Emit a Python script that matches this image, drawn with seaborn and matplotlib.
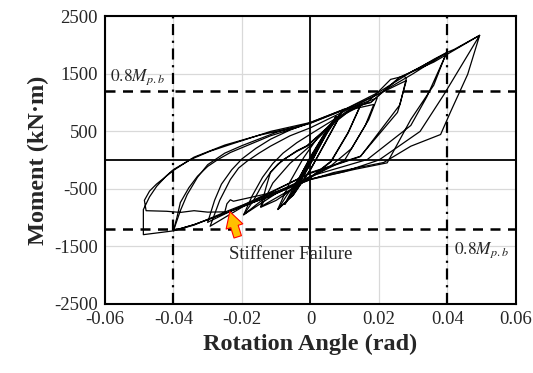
import numpy as np
import pandas as pd
import seaborn as sns
import matplotlib.pyplot as plt

# cyclic test data (rotation in rad, moment in kN.m)
rot_c1 = [0.0, 0.0018, 0.0037, 0.0022, 0.0, -0.0018, -0.0037, -0.0022, 0.0, 0.0018, 0.0037, 0.0022, 0.0, -0.0018, -0.0037]
mom_c1 = [0, 190, 380, 230, 30, -170, -370, -220, -20, 180, 385, 235, 25, -175, -375]

rot_c2 = [-0.0037, -0.002, 0.0, 0.0025, 0.005, 0.0035, 0.0, -0.0025, -0.005, -0.003, 0.0, 0.0025, 0.005, 0.0035, 0.0, -0.0025, -0.005]
mom_c2 = [-375, -200, 40, 290, 520, 370, 0, -280, -520, -300, 30, 290, 515, 365, -10, -285, -515]

rot_c3 = [-0.005, -0.003, 0.0, 0.004, 0.0075, 0.0055, 0.0, -0.004, -0.0075, -0.0055, 0.0, 0.004, 0.0075, 0.0055, 0.0, -0.004, -0.0075]
mom_c3 = [-515, -280, 60, 450, 760, 560, -60, -470, -760, -540, 40, 440, 750, 550, -70, -480, -770]

rot_c4 = [-0.0075, -0.004, 0.0, 0.005, 0.0095, 0.0075, 0.0, -0.005, -0.0095, -0.007, -0.003, 0.0, 0.005, 0.0095, 0.0075, 0.0, -0.005, -0.0095]
mom_c4 = [-770, -420, -20, 480, 880, 650, -160, -600, -860, -620, -280, 30, 500, 870, 640, -170, -610, -850]

rot_c5 = [-0.0095, -0.006, -0.002, 0.002, 0.007, 0.0115, 0.0145, 0.011, 0.006, 0.0, -0.005, -0.010, -0.0145,
          -0.011, -0.006, 0.0, 0.006, 0.0115, 0.0145, 0.011, 0.006, 0.0, -0.006, -0.0145]
mom_c5 = [-850, -380, 40, 380, 700, 880, 940, 480, -20, -300, -500, -700, -820,
          -400, -60, 250, 600, 860, 930, 470, -30, -310, -520, -810]

rot_c6 = [-0.0145, -0.013, -0.0117, -0.0095, -0.0078, -0.004, -0.001, 0.005, 0.0097, 0.015, 0.0195, 0.017, 0.012, 0.006, 0.0, -0.007, -0.014, -0.0195,
          -0.0166, -0.0140, -0.0117, -0.0095, -0.0078, -0.004, -0.001, 0.006, 0.012, 0.0185, 0.016, 0.010, 0.0, -0.010, -0.0195]
mom_c6 = [-810, -480, -217, -70, 9, 150, 240, 560, 860, 980, 1080, 700, 200, -100, -290, -500, -690, -950,
          -700, -420, -217, -80, 9, 160, 250, 620, 880, 965, 600, 0, -300, -580, -950]

rot_c7 = [-0.0195, -0.017, -0.014, -0.011, -0.008, -0.004, 0.0, 0.0068, 0.0166, 0.0205, 0.0234, 0.0273, 0.028, 0.0263, 0.0254, 0.0146, 0.0, -0.010, -0.020, -0.0293,
          -0.0265, -0.0234, -0.0210, -0.0185, -0.015, -0.0117, -0.006, 0.0, 0.010, 0.020, 0.028, 0.026, 0.0146, 0.0, -0.015, -0.030]
mom_c7 = [-950, -620, -300, -60, 120, 300, 450, 700, 1000, 1226, 1400, 1457, 1420, 1000, 826, 66, -217, -520, -820, -1150,
          -700, -339, -140, -20, 120, 240, 420, 560, 850, 1150, 1380, 950, 60, -230, -650, -1080]

rot_c8 = [-0.030, -0.028, -0.026, -0.023, -0.020, -0.016, -0.0117, -0.006, 0.0, 0.0097, 0.0176, 0.026, 0.031, 0.036, 0.0397,
          0.036, 0.0293, 0.0224, 0.0127, 0.0, -0.0146, -0.0244, -0.034, -0.040,
          -0.039, -0.038, -0.0355, -0.033, -0.030, -0.027, -0.0234, -0.0117, 0.0, 0.0097, 0.020, 0.030, 0.0397,
          0.034, 0.0293, 0.0166, 0.0, -0.0146, -0.0244, -0.034, -0.040]
mom_c8 = [-1080, -700, -420, -170, 20, 200, 360, 520, 652, 878, 1000, 1435, 1574, 1748, 1864,
          1300, 704, -49, -165, -339, -687, -913, -1122, -1226,
          -1000, -739, -480, -282, -110, 9, 130, 420, 640, 870, 1180, 1550, 1850,
          1100, 600, 9, -280, -687, -913, -1122, -1226]

rot_c9 = [-0.040, -0.038, -0.036, -0.033, -0.030, -0.025, -0.020, -0.010, 0.0, 0.0097, 0.020, 0.030, 0.0397, 0.042, 0.0494,
          0.0459, 0.041, 0.038, 0.0293, 0.0214, 0.0068, 0.0, -0.012, -0.024, -0.034, -0.040, -0.044, -0.0488,
          -0.0488, -0.047, -0.0449, -0.042, -0.040, -0.035, -0.0293, -0.0234, -0.0117, 0.0, 0.0097, 0.0176, 0.026, 0.036, 0.0494,
          0.039, 0.032, 0.020, 0.010, 0.0, -0.010, -0.0225, -0.0234, -0.0244, -0.0250, -0.030, -0.034, -0.038, -0.042, -0.048,
          -0.0485, -0.047, -0.045, -0.040, -0.034, -0.025, -0.015, -0.005]
mom_c9 = [-1226, -880, -600, -300, -80, 120, 250, 480, 640, 870, 1150, 1500, 1864, 1922, 2165,
          1487, 849, 443, 240, -43, -217, -339, -600, -880, -1130, -1230, -1260, -1296,
          -861, -640, -455, -270, -165, 9, 153, 270, 496, 652, 878, 1000, 1435, 1700, 2165,
          1139, 496, 0, -200, -330, -550, -716, -690, -760, -900, -905, -880, -910, -890, -880,
          -700, -540, -420, -180, 50, 260, 430, 560]

cycles = [(rot_c1, mom_c1), (rot_c2, mom_c2), (rot_c3, mom_c3), (rot_c4, mom_c4), (rot_c5, mom_c5),
          (rot_c6, mom_c6), (rot_c7, mom_c7), (rot_c8, mom_c8), (rot_c9, mom_c9)]

frames = []
for i, (r, m) in enumerate(cycles):
    frames.append(pd.DataFrame({"rot": r, "mom": m, "cycle": i}))
df = pd.concat(frames, ignore_index=True)

x_ticks = [-0.06, -0.04, -0.02, 0, 0.02, 0.04, 0.06]
x_labels = ["-0.06", "-0.04", "-0.02", "0", "0.02", "0.04", "0.06"]
y_ticks = [-2500, -1500, -500, 500, 1500, 2500]
mp_limit = 1200
rot_limit = 0.04

sns.set_style("white")
plt.rcParams['font.family'] = ['Liberation Serif', 'DejaVu Serif']
plt.rcParams['mathtext.fontset'] = 'stix'
plt.rcParams['axes.unicode_minus'] = False

fig = plt.figure(figsize=(5.33, 3.73), dpi=100)
ax = fig.add_axes([0.197, 0.185, 0.771, 0.772])

ax.set_xlim(-0.06, 0.06)
ax.set_ylim(-2500, 2500)
ax.set_xticks(x_ticks)
ax.set_yticks(y_ticks)
ax.set_xticklabels(x_labels)
ax.grid(True, color="#d9d9d9", lw=0.9)
ax.tick_params(length=0, labelsize=13.5, pad=5)

ax.axhline(0, color="black", lw=1.3)
ax.axvline(0, color="black", lw=1.3)
for s in (1, -1):
    ax.axhline(s * mp_limit, color="black", lw=1.8, ls=(0, (4, 3)))
    ax.axvline(s * rot_limit, color="black", lw=1.6, ls=(0, (5, 2.5, 1, 2.5)))

sns.lineplot(data=df, x="rot", y="mom", units="cycle", estimator=None, sort=False,
             color="black", lw=0.9, ax=ax, legend=False)

ax.annotate("", xy=(-0.0238, -850), xytext=(-0.0210, -1380),
            arrowprops=dict(arrowstyle="simple,head_width=0.9,head_length=0.8,tail_width=0.4",
                            fc="#ffc000", ec="red", lw=0.8, mutation_scale=14))
ax.text(-0.0237, -1640, "Stiffener Failure", fontsize=13.5, ha="left", va="center")

ax.text(-0.0584, 1380, r"$0.8M_{p.b}$", fontsize=12.5, ha="left", va="baseline")
ax.text(0.0418, -1560, r"$0.8M_{p.b}$", fontsize=12.5, ha="left", va="center")

for sp in ax.spines.values():
    sp.set_color("black")
    sp.set_linewidth(1.5)

ax.set_xlabel("Rotation Angle (rad)", fontsize=17.5, fontweight="bold", labelpad=4)
ax.set_ylabel("Moment (kN·m)", fontsize=17.5, fontweight="bold", labelpad=4)

fig.savefig("out.png", dpi=100)
